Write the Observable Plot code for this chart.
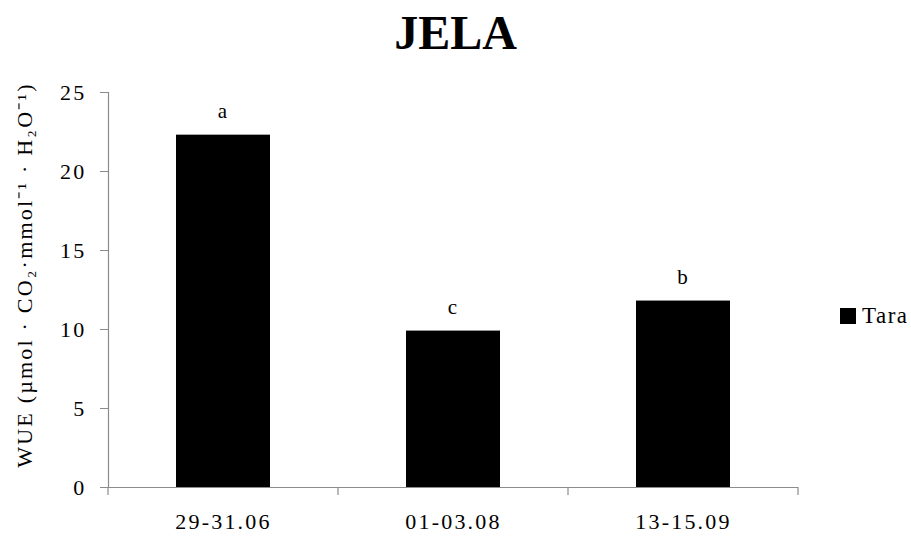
<!DOCTYPE html>
<html><head><meta charset="utf-8">
<script src="https://cdn.jsdelivr.net/npm/d3@7"></script>
<script src="https://cdn.jsdelivr.net/npm/@observablehq/plot@0.6"></script>
<style>
body{margin:0;background:#fff;font-family:"Liberation Serif","Times New Roman",serif;}
#wrap{position:relative;width:911px;height:536px;overflow:hidden;}
#title{position:absolute;top:0;left:0;width:911px;text-align:center;font-size:48px;font-weight:bold;line-height:66px;}
#chart{position:absolute;top:70px;left:0;}
#legend{position:absolute;left:840px;top:303px;font-size:23px;letter-spacing:1.5px;display:flex;align-items:center;white-space:nowrap;}
#legend .sw{width:16px;height:16px;background:#000;margin-right:6px;}
</style></head>
<body>
<div id="wrap"><div id="title"></div><div id="chart"></div><div id="legend"><span class="sw"></span><span id="legtext"></span></div></div>
<script>
const periods = ["29-31.06", "01-03.08", "13-15.09"];
const wue = [22.3, 9.9, 11.8];
const letters = ["a", "c", "b"];
const seriesName = "Tara";
const yTicks = [0, 5, 10, 15, 20, 25];
const titleText = "JELA";
const yLabel = "WUE (µmol · CO₂·mmol⁻¹ · H₂O⁻¹)";

const data = periods.map((p, i) => ({period: p, value: wue[i], letter: letters[i]}));
document.getElementById("title").textContent = titleText;
document.getElementById("legtext").textContent = seriesName;

const boundaryTicks = (...args) => {
  const dims = args.find(a => a && a.marginLeft !== undefined && a.width !== undefined);
  const g = d3.create("svg:g");
  const n = periods.length;
  const x0 = dims.marginLeft, x1 = dims.width - dims.marginRight;
  const yb = dims.height - dims.marginBottom;
  for (let i = 0; i <= n; i++) {
    const x = x0 + (x1 - x0) * i / n;
    g.append("line").attr("x1", x).attr("x2", x).attr("y1", yb).attr("y2", yb + 8)
      .attr("stroke", "#8c8c8c").attr("stroke-width", 1.2);
  }
  return g.node();
};

const chart = Plot.plot({
  width: 911,
  height: 466,
  marginTop: 22,
  marginBottom: 49,
  marginLeft: 108,
  marginRight: 113,
  style: {fontFamily: "Liberation Serif, Times New Roman, serif", fontSize: "22px", background: "#fff", color: "#000", letterSpacing: "2.2px"},
  x: {domain: periods, paddingInner: 0.59, paddingOuter: 0.295, label: null},
  y: {domain: [0, 25], label: null},
  marks: [
    Plot.barY(data, {x: "period", y: "value", fill: "#000"}),
    Plot.text(data, {x: "period", y: "value", text: "letter", dy: -24, fontSize: 21, fill: "#000"}),
    Plot.ruleY([0], {stroke: "#8c8c8c", strokeWidth: 1.2}),
    Plot.frame({anchor: "left", stroke: "#8c8c8c", strokeWidth: 1.2}),
    Plot.axisY({ticks: yTicks, tickSize: 8, tickPadding: 14, stroke: "#8c8c8c", fill: "#000", label: null, fontSize: 22}),
    Plot.axisX({tickSize: 0, tickPadding: 26, fontSize: 22, label: null}),
    Plot.text([yLabel], {frameAnchor: "left", textAnchor: "middle", rotate: -90, dx: -84, dy: -15, fontSize: 22, fill: "#000", text: d => d}),
    boundaryTicks
  ]
});
document.getElementById("chart").appendChild(chart);
</script>
</body></html>
